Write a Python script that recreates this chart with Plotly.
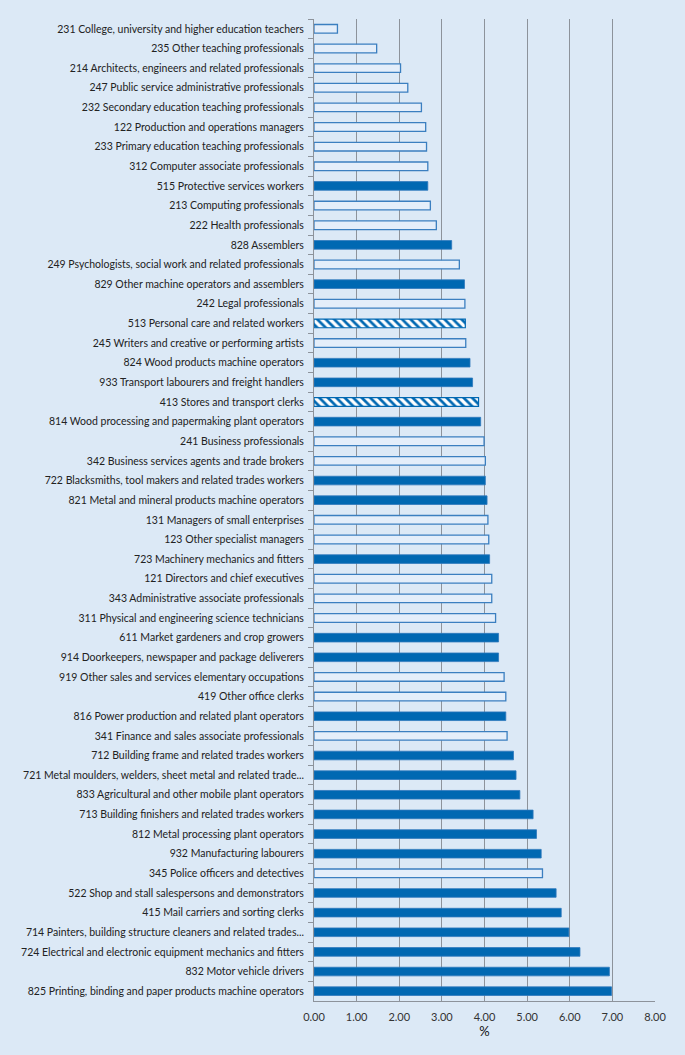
import plotly.graph_objects as go

categories = [
    "231 College, university and higher education teachers",
    "235 Other teaching professionals",
    "214 Architects, engineers and related professionals",
    "247 Public service administrative professionals",
    "232 Secondary education teaching professionals",
    "122 Production and operations managers",
    "233 Primary education teaching professionals",
    "312 Computer associate professionals",
    "515 Protective services workers",
    "213 Computing professionals",
    "222 Health professionals",
    "828 Assemblers",
    "249 Psychologists, social work and related professionals",
    "829 Other machine operators and assemblers",
    "242 Legal professionals",
    "513 Personal care and related workers",
    "245 Writers and creative or performing artists",
    "824 Wood products machine operators",
    "933 Transport labourers and freight handlers",
    "413 Stores and transport clerks",
    "814 Wood processing and papermaking plant operators",
    "241 Business professionals",
    "342 Business services agents and trade brokers",
    "722 Blacksmiths, tool makers and related trades workers",
    "821 Metal and mineral products machine operators",
    "131 Managers of small enterprises",
    "123 Other specialist managers",
    "723 Machinery mechanics and fitters",
    "121 Directors and chief executives",
    "343 Administrative associate professionals",
    "311 Physical and engineering science technicians",
    "611 Market gardeners and crop growers",
    "914 Doorkeepers, newspaper and package deliverers",
    "919 Other sales and services elementary occupations",
    "419 Other office clerks",
    "816 Power production and related plant operators",
    "341 Finance and sales associate professionals",
    "712 Building frame and related trades workers",
    "721 Metal moulders, welders, sheet metal and related trade...",
    "833 Agricultural and other mobile plant operators",
    "713 Building finishers and related trades workers",
    "812 Metal processing plant operators",
    "932 Manufacturing labourers",
    "345 Police officers and detectives",
    "522 Shop and stall salespersons and demonstrators",
    "415 Mail carriers and sorting clerks",
    "714 Painters, building structure cleaners and related trades...",
    "724 Electrical and electronic equipment mechanics and fitters",
    "832 Motor vehicle drivers",
    "825 Printing, binding and paper products machine operators",
]

values = [
    0.55, 1.47, 2.03, 2.20, 2.52, 2.62, 2.64, 2.67, 2.67, 2.73,
    2.87, 3.23, 3.41, 3.53, 3.54, 3.55, 3.56, 3.66, 3.72, 3.86,
    3.91, 3.99, 4.02, 4.02, 4.06, 4.08, 4.10, 4.12, 4.17, 4.17,
    4.26, 4.33, 4.33, 4.46, 4.50, 4.50, 4.53, 4.68, 4.74, 4.83,
    5.14, 5.22, 5.33, 5.36, 5.68, 5.80, 5.98, 6.24, 6.93, 6.98,
]

# O = outlined, S = solid, H = hatched
kinds = [
    "O", "O", "O", "O", "O", "O", "O", "O", "S", "O",
    "O", "S", "O", "S", "O", "H", "O", "S", "S", "H",
    "S", "O", "O", "S", "S", "O", "O", "S", "O", "O",
    "O", "S", "S", "O", "O", "S", "O", "S", "S", "S",
    "S", "S", "S", "O", "S", "S", "S", "S", "S", "S",
]

x_ticks = [0, 1, 2, 3, 4, 5, 6, 7, 8]
x_title = "%"

BLUE = "#0068b2"
EDGE = "#3b7fc0"
BG = "#dce9f6"
GRID = "#8d939b"
FONT = "Lato, sans-serif"

styles = {
    "O": dict(color="#e4eefa", line=dict(color=EDGE, width=1.3)),
    "S": dict(color=BLUE, line=dict(color="#2f78bd", width=0.8)),
    "H": dict(color=BLUE, line=dict(color=BLUE, width=1.2),
              pattern=dict(shape="\\", fgcolor=BLUE, bgcolor="#ffffff",
                           size=6, solidity=0.45, fillmode="replace")),
}

fig = go.Figure()
for k in ["O", "S", "H"]:
    ys = [c for c, kk in zip(categories, kinds) if kk == k]
    xs = [v for v, kk in zip(values, kinds) if kk == k]
    fig.add_trace(go.Bar(
        x=xs, y=ys, orientation="h", width=0.44,
        marker=styles[k], showlegend=False,
    ))

fig.update_layout(
    width=685, height=1055,
    barmode="overlay",
    paper_bgcolor=BG, plot_bgcolor=BG,
    margin=dict(l=306, r=38, t=11, b=62),
    font=dict(family=FONT, size=12, color="#222222"),
)

fig.update_xaxes(
    range=[0, 8], tickvals=x_ticks, tickformat=".2f",
    showgrid=True, gridcolor=GRID, gridwidth=1,
    zeroline=False, showline=True, linecolor=GRID, linewidth=1, ticks="",
    ticklabelstandoff=6,
    tickfont=dict(size=11, color="#333333"),
    title=dict(text=x_title, font=dict(size=13, color="#111111"), standoff=2),
    automargin=False,
)

fig.update_yaxes(
    type="category", categoryorder="array", categoryarray=categories,
    autorange="reversed",
    showline=True, linecolor=GRID, linewidth=1,
    ticks="outside", tickson="boundaries", ticklen=5, tickcolor=GRID,
    ticklabelstandoff=7,
    showgrid=False, zeroline=False,
    tickfont=dict(size=10.5, color="#222222"),
    automargin=False,
)

fig.write_html(
    "out.html",
    post_script="document.body.style.background='%s';" % BG,
)
